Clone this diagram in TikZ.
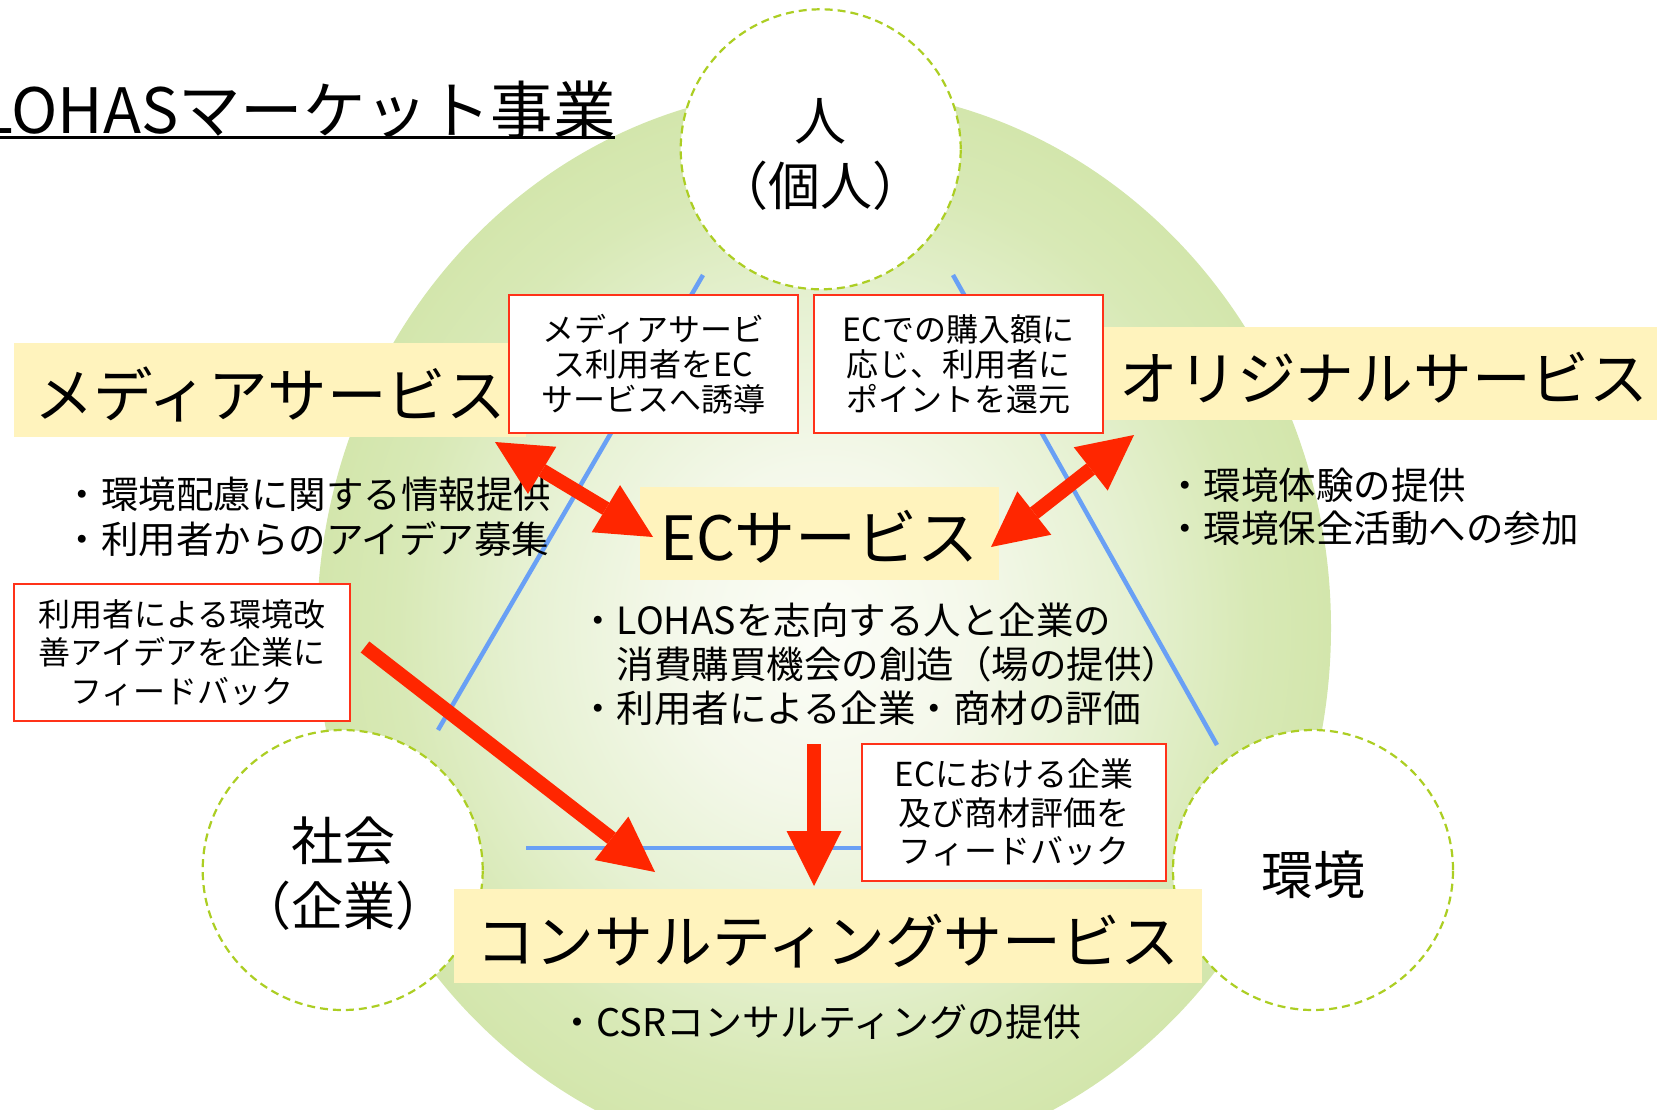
\documentclass[tikz,border=0pt]{standalone}
\usepackage{fontspec}
\setmainfont{Noto Sans CJK JP}
\usetikzlibrary{arrows.meta}
\definecolor{ringA}{RGB}{252,253,248}
\definecolor{ringB}{RGB}{244,248,234}
\definecolor{ringC}{RGB}{230,241,210}
\definecolor{ringD}{RGB}{216,233,182}
\definecolor{ringE}{RGB}{211,230,172}
\definecolor{yelc}{RGB}{255,243,189}
\definecolor{redc}{RGB}{255,38,0}
\definecolor{boxred}{RGB}{255,50,25}
\definecolor{bluec}{RGB}{105,160,245}
\definecolor{dgreen}{RGB}{172,206,35}
\pgfdeclareradialshading{bigglow}{\pgfpoint{0bp}{0bp}}{color(0bp)=(ringA); color(7.5bp)=(ringB); color(15bp)=(ringC); color(21bp)=(ringD); color(25bp)=(ringE); color(50bp)=(ringE)}
\newcommand{\fsz}[2]{\fontsize{#1}{#2}\selectfont}
\begin{document}
\begin{tikzpicture}[x=1pt,y=-1pt,
  ybox/.style={fill=yelc, inner sep=0pt, text height=54pt, text depth=0pt},
  rbox/.style={draw=boxred, line width=2pt, fill=white, align=center, inner sep=0pt},
  circ/.style={circle, draw=dgreen, dash pattern=on 8pt off 5pt, line width=2.2pt, fill=white, minimum size=280pt, inner sep=0pt},
  ctext/.style={align=center, inner sep=0pt, font=\fsz{52}{65}},
  btext/.style={align=left, inner sep=0pt},
  bluel/.style={draw=bluec, line width=4.5pt},
  redarrow/.style={draw=redc, line width=14pt, >={Triangle[length=55pt,width=55pt,line width=0pt]}}
]
\useasboundingbox (0,0) rectangle (1657,1109);
\clip (0,0) rectangle (1657,1109);

% big shaded ellipse
\shade[shading=bigglow] (824,628) ellipse [x radius=507, y radius=540];

% blue triangle
\coordinate (bL1) at (703,275); \coordinate (bL2) at (438,730);
\coordinate (bR1) at (953,275); \coordinate (bR2) at (1217,745);
\coordinate (bB1) at (526,848); \coordinate (bB2) at (1110,848);
\draw[bluel] (bL1) -- (bL2);
\draw[bluel] (bR1) -- (bR2);
\draw[bluel] (bB1) -- (bB2);

% circles
\node[circ] (person) at (820.7,149.3) {};
\node[circ] (society) at (342.7,870) {};
\node[circ] (environment) at (1313,870) {};
\node[ctext] (personT) at (820.7,154) {人\\（個人）};
\node[ctext] (societyT) at (343,874) {社会\\（企業）};
\node[ctext] (environmentT) at (1313,875) {環境};

% yellow service boxes
\node[ybox, minimum width=512pt, minimum height=94pt, font=\fsz{59.5}{59.5}] (media) at (270,390) {メディアサービス};
\node[ybox, minimum width=359pt, minimum height=93pt, font=\fsz{61}{61}] (ec) at (819.5,533.5) {ECサービス};
\node[ybox, minimum width=570pt, minimum height=93pt, font=\fsz{58.7}{58.7}] (orig) at (1384,373.5) {オリジナルサービス};
\node[ybox, minimum width=748pt, minimum height=94pt, font=\fsz{58.8}{58.8}] (consult) at (828,936) {コンサルティングサービス};

% red bordered boxes
\node[rbox, minimum width=289pt, minimum height=138pt, font=\fsz{32}{35}] (toec) at (653.5,364) {メディアサービ\\ス利用者をEC\\サービスへ誘導};
\node[rbox, minimum width=289pt, minimum height=138pt, font=\fsz{32}{35}] (points) at (958.5,364) {ECでの購入額に\\応じ、利用者に\\ポイントを還元};
\node[rbox, minimum width=336pt, minimum height=137pt, font=\fsz{32}{38.5}] (ideafb) at (182,652.5) {利用者による環境改\\善アイデアを企業に\\フィードバック};
\node[rbox, minimum width=304pt, minimum height=137pt, font=\fsz{33}{38.5}] (ecfb) at (1014,812.5) {ECにおける企業\\及び商材評価を\\フィードバック};

% bullet texts
\node[btext, anchor=west, font=\fsz{37.5}{45}] (mediaList) at (63.5,516.5) {・環境配慮に関する情報提供\\・利用者からのアイデア募集};
\node[btext, anchor=west, font=\fsz{37.5}{43}] (origList) at (1166,506.5) {・環境体験の提供\\・環境保全活動への参加};
\node[btext, anchor=west, font=\fsz{37.5}{44}] (ecList) at (579,664) {・LOHASを志向する人と企業の\\　消費購買機会の創造（場の提供）\\・利用者による企業・商材の評価};
\node[btext, anchor=west, font=\fsz{38}{38}] (csrList) at (558,1022) {・CSRコンサルティングの提供};

% title
\node[inner sep=0pt, anchor=base east, font=\fsz{62.5}{62.5}] (title) at (616,133) {LOHASマーケット事業};
\coordinate (ulL) at (-10,137.5); \coordinate (ulR) at (615,137.5);
\draw[line width=3pt] (ulL) -- (ulR);

% red arrows
\coordinate (a1s) at (495,442); \coordinate (a1e) at (653,537);
\coordinate (a2s) at (991,547); \coordinate (a2e) at (1134,435);
\coordinate (a3s) at (365,647); \coordinate (a3e) at (655,872);
\coordinate (a4s) at (814,744); \coordinate (a4e) at (814,886);
\draw[redarrow, <->] (a1s) -- (a1e);
\draw[redarrow, <->] (a2s) -- (a2e);
\draw[redarrow, ->] (a3s) -- (a3e);
\draw[redarrow, ->] (a4s) -- (a4e);
\end{tikzpicture}
\end{document}
